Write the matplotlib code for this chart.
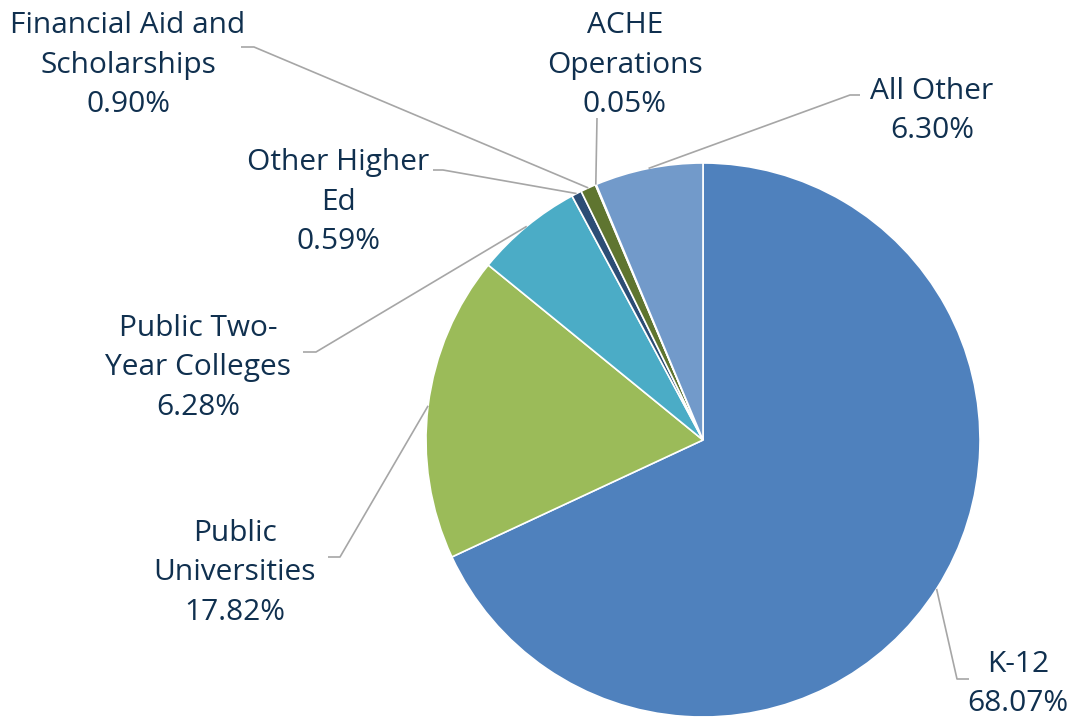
import numpy as np
import matplotlib
matplotlib.use("Agg")
import matplotlib.pyplot as plt

# data
labels = ["K-12", "Public\nUniversities", "Public Two-\nYear Colleges", "Other Higher\nEd",
          "Financial Aid and\nScholarships", "ACHE\nOperations", "All Other"]
shares = [68.07, 17.82, 6.28, 0.59, 0.90, 0.05, 6.30]
colors = ["#4F81BD", "#9BBB59", "#4BACC6", "#2C4D75", "#5F7530", "#4D3B62", "#729ACA"]

# layout in pixel coords (x, y from top): text centre, elbow, line end
text_pos = [(1018, 684), (235, 573), (198, 368), (338, 202), (128, 65), (625, 65), (932, 111)]
elbow_pos = [(957, 679), (340, 557), (316, 352), (443, 170), (254, 47), (597, 118), (850, 95)]
end_pos = [(969, 679), (328, 557), (303, 352), (433, 170), (241, 47), (597, 118), (860, 95)]

W, H = 1077, 721
cx, cy, R = 703, 440, 277

plt.rcParams['font.family'] = ['Open Sans', 'DejaVu Sans']
fig = plt.figure(figsize=(W / 100, H / 100), dpi=100)
ax = fig.add_axes([0, 0, 1, 1])

wedges, _ = ax.pie(shares, colors=colors, startangle=90, counterclock=False,
                   radius=R, center=(cx, H - cy),
                   wedgeprops=dict(edgecolor="white", linewidth=1.2))
ax.set_xlim(0, W)
ax.set_ylim(0, H)
ax.set_aspect('equal')
ax.axis('off')

txt_color = "#10304F"
line_color = "#A6A6A6"
for w, lab, val, tp, ep, np_ in zip(wedges, labels, shares, text_pos, elbow_pos, end_pos):
    mid = np.deg2rad((w.theta1 + w.theta2) / 2)
    px = cx + R * np.cos(mid)
    py = (H - cy) + R * np.sin(mid)
    ax.plot([px, ep[0], np_[0]], [py, H - ep[1], H - np_[1]],
            color=line_color, lw=1.2, solid_capstyle='butt', zorder=1)
    ax.text(tp[0], H - tp[1], f"{lab}\n{val:.2f}%", ha='center', va='center',
            multialignment='center', fontsize=21.5, color=txt_color, linespacing=1.48)

fig.savefig("out.png", dpi=100)
